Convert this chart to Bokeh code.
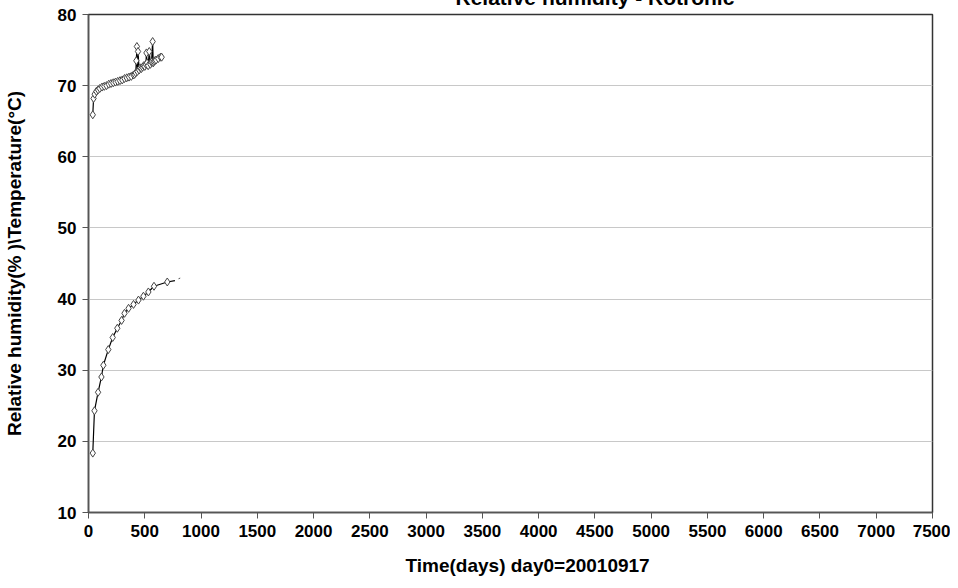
from bokeh.plotting import figure
from bokeh.models import Range1d, FixedTicker, Title
from bokeh.embed import file_html
from bokeh.resources import INLINE

# ---- data ----
hum_days = [38, 45, 55, 70, 85, 100, 120, 140, 160, 180, 200, 220, 240, 260, 280,
            300, 320, 340, 360, 380, 400, 410, 420, 425, 430, 435, 440, 450, 460,
            470, 480, 490, 500, 510, 515, 520, 530, 540, 550, 560, 570, 575, 580,
            590, 600, 620, 640, 650]
hum_vals = [65.9, 68.2, 68.8, 69.2, 69.4, 69.6, 69.8, 69.9, 70.0, 70.2, 70.3, 70.4,
            70.5, 70.6, 70.7, 70.8, 71.0, 71.1, 71.2, 71.3, 71.5, 71.6, 71.8, 73.5,
            75.5, 72.0, 74.8, 72.2, 72.5, 72.4, 72.6, 72.8, 72.7, 73.0, 74.6, 73.2,
            72.8, 74.8, 73.0, 73.3, 76.2, 73.2, 73.4, 73.5, 73.6, 73.8, 74.0, 74.0]

temp_days = [38, 53, 85, 115, 132, 176, 215, 256, 294, 320, 356, 400, 444, 488,
             532, 582, 700, 768]
temp_vals = [18.35, 24.3, 26.9, 29.05, 30.7, 32.9, 34.6, 35.9, 37.0, 38.0, 38.7,
             39.25, 39.86, 40.4, 41.0, 41.8, 42.4, 42.6]
temp_tail_days = [800, 815]
temp_tail_vals = [42.85, 42.95]

x_ticks = list(range(0, 7501, 500))
y_ticks = list(range(10, 81, 10))

title_text = "Relative humidity - Rotronic"
x_label = "Time(days) day0=20010917"
y_label = "Relative humidity(% )\\Temperature(°C)"

FONT = "Liberation Sans"
SHIFT = 23

p = figure(width=950, height=588 + SHIFT, output_backend="svg", toolbar_location=None,
           x_range=Range1d(0, 7500), y_range=Range1d(10, 80),
           min_border_left=88, min_border_right=18, min_border_top=15,
           min_border_bottom=76, title=title_text)
p.styles = {"margin-top": f"-{SHIFT}px"}
p.background_fill_color = "white"
p.border_fill_color = "white"
p.outline_line_color = "#333333"
p.outline_line_width = 1.5

p.title.align = "left"
p.title.offset = 367
p.title.standoff = 12
p.title.text_font = FONT
p.title.text_font_style = "bold"
p.title.text_font_size = "21px"
p.title.text_color = "black"

p.xaxis.ticker = FixedTicker(ticks=x_ticks)
p.yaxis.ticker = FixedTicker(ticks=y_ticks)
for ax in (p.xaxis[0], p.yaxis[0]):
    ax.axis_line_color = "#555555"
    ax.axis_line_width = 1.5
    ax.major_tick_line_color = "#555555"
    ax.major_tick_in = 0
    ax.major_tick_out = 6
    ax.minor_tick_line_color = None
    ax.major_label_text_font = FONT
    ax.major_label_text_font_style = "bold"
    ax.major_label_text_font_size = "17px"
    ax.major_label_text_color = "black"
p.xaxis.major_label_standoff = 6
p.yaxis.major_label_standoff = 6

p.yaxis.axis_label = y_label
p.yaxis.axis_label_text_font = FONT
p.yaxis.axis_label_text_font_style = "bold"
p.yaxis.axis_label_text_font_size = "19px"
p.yaxis.axis_label_text_color = "black"
p.yaxis.axis_label_standoff = 30

# x-axis title, placed as a left-aligned title below the axis
p.add_layout(Title(text=x_label, align="left", offset=317, vertical_align="bottom",
                   standoff=26, text_font=FONT, text_font_style="bold",
                   text_font_size="19px", text_color="black"), "below")

p.xgrid.grid_line_color = None
p.ygrid.grid_line_color = "#c8c8c8"
p.ygrid.grid_line_width = 1

# series
p.line(hum_days, hum_vals, line_color="black", line_width=1.2)
p.scatter(hum_days, hum_vals, marker="diamond", size=8, fill_color="white",
          line_color="#444444", line_width=1)
p.line(temp_days, temp_vals, line_color="black", line_width=1.2)
p.scatter(temp_days[:-1], temp_vals[:-1], marker="diamond", size=8, fill_color="white",
          line_color="#444444", line_width=1)
p.line(temp_tail_days, temp_tail_vals, line_color="#555555", line_width=1)

open("out.html", "w").write(file_html(p, INLINE))
